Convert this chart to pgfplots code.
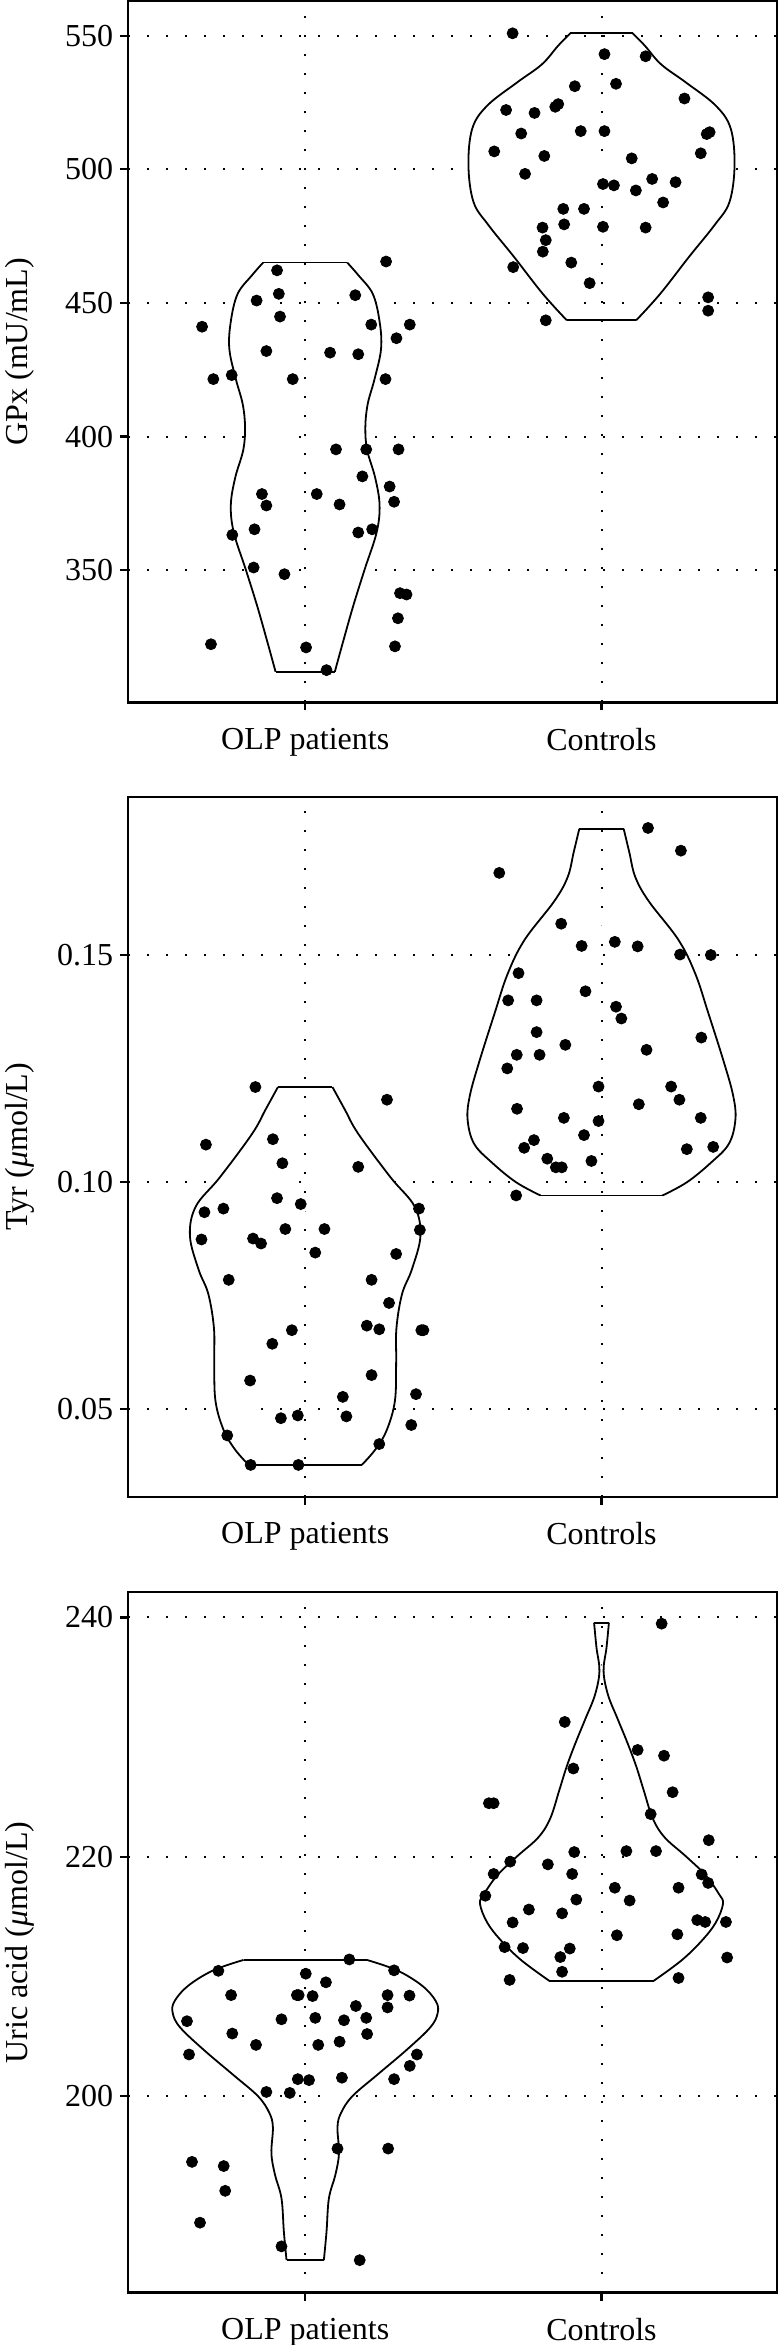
\documentclass[border=0pt]{standalone}
\usepackage{fontspec}
\setmainfont{Liberation Serif}
\usepackage{pgfplots}
\usepackage{pgfplotstable}
\pgfplotsset{compat=1.18}
\usepgfplotslibrary{fillbetween}

% ---------- violin outlines (y, half width) ----------
\pgfplotstableread{
y h
465.1 0.142
460.3 0.180
453.4 0.228
443.1 0.251
432.8 0.256
421.5 0.234
412.2 0.211
403.6 0.203
395.0 0.209
384.7 0.236
374.4 0.251
364.1 0.241
350.4 0.201
336.6 0.162
322.9 0.127
312.0 0.100
}\vA
\pgfplotstableread{
y h
550.9 0.105
546.3 0.146
539.3 0.201
532.5 0.285
523.9 0.385
515.3 0.436
501.5 0.449
487.8 0.432
479.2 0.382
467.2 0.295
453.4 0.198
443.5 0.117
}\vB
\pgfplotstableread{
y h
0.1209 0.092
0.1159 0.134
0.1106 0.179
0.1010 0.288
0.0946 0.369
0.0881 0.389
0.0807 0.360
0.0753 0.327
0.0678 0.308
0.0604 0.307
0.0518 0.303
0.0454 0.276
0.0411 0.238
0.0376 0.191
}\vC
\pgfplotstableread{
y h
0.1778 0.075
0.1726 0.094
0.1672 0.114
0.1619 0.159
0.1533 0.260
0.1458 0.317
0.1373 0.360
0.1266 0.412
0.1191 0.444
0.1138 0.452
0.1084 0.430
0.1042 0.369
0.0999 0.288
0.0970 0.206
}\vD
\pgfplotstableread{
y h
211.39 0.208
210.52 0.310
209.25 0.394
207.94 0.441
206.94 0.447
205.75 0.422
203.89 0.343
201.79 0.243
200.00 0.159
198.61 0.121
197.42 0.109
195.24 0.114
193.45 0.102
191.47 0.080
188.69 0.072
186.31 0.063
}\vE
\pgfplotstableread{
y h
239.56 0.025
237.50 0.017
235.52 0.007
233.53 0.022
231.55 0.054
229.56 0.087
227.58 0.117
225.60 0.142
223.21 0.173
221.63 0.213
220.04 0.285
218.45 0.352
216.87 0.397
216.07 0.410
214.48 0.385
212.90 0.335
211.31 0.268
209.64 0.176
}\vF

% ---------- points ----------
\pgfplotstableread{
x y
-0.348 441.1
-0.310 421.5
-0.248 423.0
-0.318 322.3
-0.095 462.2
-0.089 453.4
-0.164 450.9
-0.085 444.9
-0.131 432.0
-0.042 421.5
-0.246 363.2
-0.146 378.5
-0.131 374.2
-0.171 365.3
-0.174 351.0
-0.070 348.5
0.003 321.1
0.072 312.6
0.039 378.5
0.084 431.4
0.104 395.2
0.116 374.6
0.169 452.9
0.179 430.8
0.223 441.9
0.206 395.2
0.193 385.1
0.179 364.1
0.226 365.3
0.273 465.5
0.271 421.5
0.308 436.8
0.353 441.9
0.315 395.2
0.285 381.3
0.300 375.6
0.320 341.4
0.342 340.9
0.313 332.0
0.303 321.5
}\pA
\pgfplotstableread{
x y
0.700 550.9
1.010 543.1
1.149 542.3
0.910 531.1
1.049 532.0
1.280 526.5
0.678 522.2
0.774 521.1
0.844 523.4
0.854 524.4
0.729 513.4
0.930 514.3
1.010 514.3
1.355 513.2
1.365 513.9
0.638 506.7
0.807 505.0
1.335 506.0
1.102 504.1
0.742 498.3
1.171 496.4
1.005 494.5
1.042 494.0
1.116 492.1
1.250 495.2
1.208 487.6
0.871 485.2
0.941 485.2
0.801 478.2
0.874 479.4
1.005 478.5
1.149 478.2
0.812 473.5
0.802 469.2
0.898 465.1
0.702 463.4
0.960 457.4
0.812 443.5
1.360 452.1
1.360 447.1
}\pB
\pgfplotstableread{
x y
-0.168 0.1209
-0.335 0.1082
-0.109 0.1094
-0.077 0.1041
-0.095 0.0964
-0.340 0.0933
-0.276 0.0941
-0.350 0.0873
-0.176 0.0875
-0.149 0.0864
-0.067 0.0896
-0.015 0.0951
0.034 0.0844
0.065 0.0896
-0.258 0.0784
-0.045 0.0673
-0.111 0.0643
-0.186 0.0562
-0.082 0.0479
-0.025 0.0485
-0.263 0.0441
-0.184 0.0376
-0.023 0.0376
0.276 0.1181
0.179 0.1033
0.384 0.0941
0.387 0.0894
0.307 0.0841
0.224 0.0784
0.283 0.0733
0.208 0.0683
0.250 0.0675
0.392 0.0673
0.399 0.0673
0.224 0.0574
0.127 0.0526
0.139 0.0483
0.374 0.0532
0.358 0.0464
0.250 0.0422
}\pC
\pgfplotstableread{
x y
1.157 0.1780
1.268 0.1730
0.655 0.1681
0.864 0.1569
0.933 0.1520
1.045 0.1529
1.122 0.1519
1.265 0.1501
1.369 0.1500
0.720 0.1460
0.685 0.1400
0.781 0.1400
0.946 0.1420
1.049 0.1386
1.067 0.1360
0.781 0.1330
1.337 0.1318
0.878 0.1302
1.152 0.1291
0.714 0.1280
0.791 0.1280
0.682 0.1250
0.990 0.1210
1.235 0.1210
1.263 0.1181
1.126 0.1171
0.715 0.1161
0.873 0.1141
0.990 0.1134
1.335 0.1141
0.941 0.1103
0.772 0.1092
0.739 0.1075
1.288 0.1072
1.377 0.1077
0.817 0.1051
0.846 0.1032
0.866 0.1032
0.966 0.1046
0.712 0.0970
}\pD
\pgfplotstableread{
x y
-0.293 210.48
-0.250 208.45
-0.399 206.27
-0.246 205.24
-0.392 203.49
-0.166 204.29
-0.080 206.43
0.002 210.24
-0.028 208.45
-0.022 208.45
0.025 208.37
0.070 209.52
0.034 206.55
0.044 204.29
-0.131 200.36
-0.052 200.28
-0.025 201.43
0.013 201.35
0.116 204.56
0.131 206.35
0.149 211.43
0.171 207.54
0.206 206.55
0.209 205.20
0.124 201.55
0.278 208.45
0.278 207.42
0.300 210.52
0.352 208.41
0.353 202.54
0.377 203.49
0.300 201.43
0.109 195.63
0.280 195.63
-0.382 194.52
-0.275 194.17
-0.270 192.10
-0.355 189.44
-0.080 187.46
0.184 186.31
}\pE
\pgfplotstableread{
x y
1.203 239.48
0.876 231.27
1.122 228.93
1.211 228.45
0.905 227.38
0.620 224.48
0.636 224.48
1.240 225.40
1.166 223.57
1.362 221.39
0.908 220.40
1.084 220.48
1.184 220.48
0.692 219.60
0.819 219.37
0.636 218.57
0.901 218.57
1.338 218.53
1.360 217.82
1.045 217.42
1.260 217.42
0.608 216.75
0.915 216.43
1.095 216.35
0.755 215.60
0.867 215.28
0.700 214.52
1.323 214.72
1.350 214.56
1.420 214.56
1.052 213.45
1.256 213.53
0.673 212.46
0.735 212.38
0.893 212.34
0.861 211.63
1.424 211.59
0.867 210.40
0.690 209.72
1.260 209.88
}\pF

\pgfplotsset{
  myaxis/.style={
    scale only axis,
    width=324.45pt,
    anchor=south west,
    xmin=-0.597, xmax=1.593,
    xtick={0,1},
    xticklabels={OLP patients, Controls},
    tick align=outside,
    major tick length=4pt,
    tick pos=left,
    grid=major,
    major grid style={black, line width=1pt, dash pattern=on 1pt off 8.5pt},
    axis line style={line width=1.15pt},
    every tick/.style={black, line width=1.15pt},
    tick label style={font=\fontsize{16}{19}\selectfont},
    every axis y label/.style={at={(axis description cs:-0.1561,0.5)}, rotate=90, anchor=base, font=\fontsize{16}{19}\selectfont},
    xticklabel style={yshift=-5.5pt},
    /pgf/number format/assume math mode=true,
  },
  vline/.style={black, line width=0.9pt, smooth, tension=0.6},
  dots/.style={only marks, mark=*, mark size=2.75pt, black},
}

\begin{document}
\begin{tikzpicture}

% ---------------- Panel 1: GPx ----------------
\begin{axis}[myaxis, at={(64.15pt,821.25pt)}, height=350.75pt,
  ymin=300.5, ymax=563,
  ytick={350,400,450,500,550},
  yticklabels={350,400,450,500,550},
  ylabel={GPx (mU/mL)}]
  \addplot[name path=AR, draw=none, smooth, tension=0.6] table[x expr=\thisrow{h}, y=y] {\vA};
  \addplot[name path=AL, draw=none, smooth, tension=0.6] table[x expr=-\thisrow{h}, y=y] {\vA};
  \addplot[fill=white, draw=none] fill between[of=AR and AL];
  \addplot[vline] table[x expr=\thisrow{h}, y=y] {\vA};
  \addplot[vline] table[x expr=-\thisrow{h}, y=y] {\vA};
  \addplot[black, line width=0.9pt] coordinates {(-0.142,465.1) (0.142,465.1)};
  \addplot[black, line width=0.9pt] coordinates {(-0.100,312.0) (0.100,312.0)};

  \addplot[name path=BR, draw=none, smooth, tension=0.6] table[x expr=1+\thisrow{h}, y=y] {\vB};
  \addplot[name path=BL, draw=none, smooth, tension=0.6] table[x expr=1-\thisrow{h}, y=y] {\vB};
  \addplot[fill=white, draw=none] fill between[of=BR and BL];
  \addplot[vline] table[x expr=1+\thisrow{h}, y=y] {\vB};
  \addplot[vline] table[x expr=1-\thisrow{h}, y=y] {\vB};
  \addplot[black, line width=0.9pt] coordinates {(0.895,550.9) (1.105,550.9)};
  \addplot[black, line width=0.9pt] coordinates {(0.883,443.5) (1.117,443.5)};

  \addplot[dots] table {\pA};
  \addplot[dots] table {\pB};
\end{axis}

% ---------------- Panel 2: Tyr ----------------
\begin{axis}[myaxis, at={(64.15pt,424.15pt)}, height=350pt,
  ymin=0.0306, ymax=0.1849,
  ytick={0.05,0.10,0.15},
  yticklabels={0.05,0.10,0.15},
  ylabel={Tyr (\textit{μ}mol/L)}]
  \addplot[name path=CR, draw=none, smooth, tension=0.6] table[x expr=\thisrow{h}, y=y] {\vC};
  \addplot[name path=CL, draw=none, smooth, tension=0.6] table[x expr=-\thisrow{h}, y=y] {\vC};
  \addplot[fill=white, draw=none] fill between[of=CR and CL];
  \addplot[vline] table[x expr=\thisrow{h}, y=y] {\vC};
  \addplot[vline] table[x expr=-\thisrow{h}, y=y] {\vC};
  \addplot[black, line width=0.9pt] coordinates {(-0.092,0.1209) (0.092,0.1209)};
  \addplot[black, line width=0.9pt] coordinates {(-0.191,0.0376) (0.191,0.0376)};

  \addplot[name path=DR, draw=none, smooth, tension=0.6] table[x expr=1+\thisrow{h}, y=y] {\vD};
  \addplot[name path=DL, draw=none, smooth, tension=0.6] table[x expr=1-\thisrow{h}, y=y] {\vD};
  \addplot[fill=white, draw=none] fill between[of=DR and DL];
  \addplot[vline] table[x expr=1+\thisrow{h}, y=y] {\vD};
  \addplot[vline] table[x expr=1-\thisrow{h}, y=y] {\vD};
  \addplot[black, line width=0.9pt] coordinates {(0.925,0.1778) (1.075,0.1778)};
  \addplot[black, line width=0.9pt] coordinates {(0.794,0.0970) (1.206,0.0970)};

  \addplot[dots] table {\pC};
  \addplot[dots] table {\pD};
\end{axis}

% ---------------- Panel 3: Uric acid ----------------
\begin{axis}[myaxis, at={(64.15pt,26.2pt)}, height=350.15pt,
  ymin=183.6, ymax=242.1,
  ytick={200,220,240},
  yticklabels={200,220,240},
  ylabel={Uric acid (\textit{μ}mol/L)}]
  \addplot[name path=ER, draw=none, smooth, tension=0.6] table[x expr=\thisrow{h}, y=y] {\vE};
  \addplot[name path=EL, draw=none, smooth, tension=0.6] table[x expr=-\thisrow{h}, y=y] {\vE};
  \addplot[fill=white, draw=none] fill between[of=ER and EL];
  \addplot[vline] table[x expr=\thisrow{h}, y=y] {\vE};
  \addplot[vline] table[x expr=-\thisrow{h}, y=y] {\vE};
  \addplot[black, line width=0.9pt] coordinates {(-0.208,211.39) (0.208,211.39)};
  \addplot[black, line width=0.9pt] coordinates {(-0.063,186.31) (0.063,186.31)};

  \addplot[name path=FR, draw=none, smooth, tension=0.6] table[x expr=1+\thisrow{h}, y=y] {\vF};
  \addplot[name path=FL, draw=none, smooth, tension=0.6] table[x expr=1-\thisrow{h}, y=y] {\vF};
  \addplot[fill=white, draw=none] fill between[of=FR and FL];
  \addplot[vline] table[x expr=1+\thisrow{h}, y=y] {\vF};
  \addplot[vline] table[x expr=1-\thisrow{h}, y=y] {\vF};
  \addplot[black, line width=0.9pt] coordinates {(0.975,239.56) (1.025,239.56)};
  \addplot[black, line width=0.9pt] coordinates {(0.824,209.64) (1.176,209.64)};

  \addplot[dots] table {\pE};
  \addplot[dots] table {\pF};
\end{axis}

\pgfresetboundingbox
\useasboundingbox (0,0) rectangle (389pt,1172.5pt);
\end{tikzpicture}
\end{document}
